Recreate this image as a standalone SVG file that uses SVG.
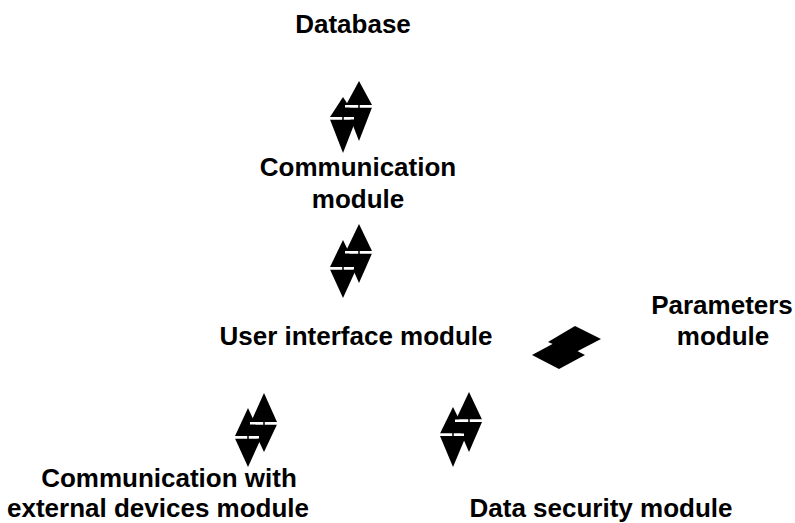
<svg xmlns="http://www.w3.org/2000/svg" width="795" height="523" viewBox="0 0 795 523">
<style>
.t{font-family:"Liberation Sans",Arial,sans-serif;font-weight:bold;font-size:26px;fill:#000;text-anchor:middle}
.h{fill:#000}
.b{fill:#fff}
.s{stroke:#000;stroke-width:1.5}
</style>
<rect width="795" height="523" fill="#fff"/>
<g id="connectors">
<g id="c1">
<polygon class="h" points="359,81 346,105 372,105"/>
<polygon class="h" points="346,107.5 372,107.5 359,141"/>
<polygon class="h" points="343,97 330,117 356,117"/>
<polygon class="h" points="330,119.5 356,119.5 343,153"/>
<rect class="b" x="345" y="105" width="28" height="2.5"/>
<rect class="b" x="329" y="117" width="25" height="2.5"/>
<line class="s" x1="359" y1="104" x2="359" y2="108.5"/>
<line class="s" x1="343" y1="116" x2="343" y2="120.5"/>
</g>
<g id="c2">
<polygon class="h" points="359,224 346,251 372,251"/>
<polygon class="h" points="346,253.5 372,253.5 359,283"/>
<polygon class="h" points="343,240 330,267 356,267"/>
<polygon class="h" points="330,269.5 356,269.5 343,298"/>
<rect class="b" x="345" y="251" width="28" height="2.5"/>
<rect class="b" x="329" y="267" width="25" height="2.5"/>
<line class="s" x1="359" y1="250" x2="359" y2="254.5"/>
<line class="s" x1="343" y1="266" x2="343" y2="270.5"/>
</g>
<g id="c3">
<polygon class="h" points="575,326 601,339 574,353 548,342"/>
<polygon class="h" points="558,341 585,355 559,369 532,355"/>
</g>
<g id="c4">
<polygon class="h" points="264,393 251,422 277,422"/>
<polygon class="h" points="251,424.5 277,424.5 264,452"/>
<polygon class="h" points="248,408 235,436 261,436"/>
<polygon class="h" points="235,438.5 261,438.5 248,467"/>
<rect class="b" x="250" y="422" width="28" height="2.5"/>
<rect class="b" x="234" y="436" width="25" height="2.5"/>
<line class="s" x1="264" y1="421" x2="264" y2="425.5"/>
<line class="s" x1="248" y1="435" x2="248" y2="439.5"/>
</g>
<g id="c5">
<polygon class="h" points="469,392 456,419.5 482,419.5"/>
<polygon class="h" points="456,422 482,422 469,452"/>
<polygon class="h" points="453,407 440,433.5 466,433.5"/>
<polygon class="h" points="440,436 466,436 453,467"/>
<rect class="b" x="455" y="419.5" width="28" height="2.5"/>
<rect class="b" x="439" y="433.5" width="25" height="2.5"/>
<line class="s" x1="469" y1="418.5" x2="469" y2="423"/>
<line class="s" x1="453" y1="432.5" x2="453" y2="437"/>
</g>
</g>
<g id="database"><text class="t" x="353" y="33">Database</text></g>
<g id="communication"><text class="t" x="358" y="176">Communication</text><text class="t" x="358" y="208">module</text></g>
<g id="ui"><text class="t" x="356" y="345">User interface module</text></g>
<g id="parameters"><text class="t" x="722" y="314">Parameters</text><text class="t" x="723" y="345">module</text></g>
<g id="external"><text class="t" x="169" y="487">Communication with</text><text class="t" x="158" y="517">external devices module</text></g>
<g id="security"><text class="t" x="601" y="517">Data security module</text></g>
</svg>
